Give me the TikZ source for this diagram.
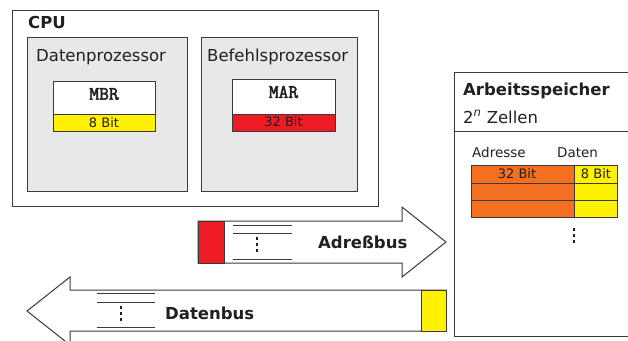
\documentclass[tikz,border=0pt]{standalone}
\usepackage{fontspec}
\setmainfont{DejaVu Sans}
\newfontfamily\regfont[AutoFakeBold=2.5]{Latin Modern Mono}
\definecolor{ylw}{HTML}{FFF200}
\definecolor{rd}{HTML}{ED1C24}
\definecolor{org}{HTML}{F37021}
\definecolor{gry}{HTML}{E8E8E8}
\definecolor{ln}{HTML}{3A3A3A}
\definecolor{txt}{HTML}{231F20}
\begin{document}
\begin{tikzpicture}[x=1pt,y=-1pt,
  box/.style={draw=ln,line width=1pt},
  lbl/.style={inner sep=0pt,text=txt,anchor=west},
  big/.style={font=\fontsize{16.5}{18}\selectfont},
  bigb/.style={font=\fontsize{16.5}{18}\selectfont\bfseries},
  small/.style={font=\fontsize{13}{14}\selectfont},
  reg/.style={font=\fontsize{19}{20}\regfont\bfseries},
  dotm/.style={fill=txt},
  busline/.style={draw=ln,line width=1pt}]
\useasboundingbox (0,0) rectangle (628,340);
% CPU
\draw[box] (12,10) rectangle (378,206);
\node[lbl,bigb] (cpu) at (28,22) {CPU};
\draw[box,fill=gry] (27,37) rectangle (187,191);
\draw[box,fill=gry] (201,37) rectangle (357,191);
\node[lbl,big] (dp) at (36,57) {Datenprozessor};
\node[lbl,big] (bp) at (207,57) {Befehlsprozessor};
% MBR
\draw[box,fill=white] (53,81) rectangle (155,114);
\draw[box,fill=ylw] (53,114) rectangle (155,131);
\node[reg,inner sep=0pt,text=txt] (mbr) at (104,94) {MBR};
\node[small,inner sep=0pt,text=txt] (mbrb) at (104,122.5) {8 Bit};
% MAR
\draw[box,fill=white] (232,79) rectangle (335,114);
\draw[box,fill=rd] (232,114) rectangle (335,131);
\node[reg,inner sep=0pt,text=txt] (mar) at (283.5,92) {MAR};
\node[small,inner sep=0pt,text=txt] (marb) at (283.5,122) {32 Bit};
% Adressbus arrow
\draw[box,fill=white] (198,221) -- (402,221) -- (402,207) -- (446,242) -- (402,277) -- (402,263) -- (198,263) -- cycle;
\draw[box,fill=rd] (198,221) rectangle (224,263);
\draw[busline] (233,225) -- (292,225);
\draw[busline] (233,233) -- (292,233);
\draw[busline] (233,259) -- (292,259);
\fill[dotm] (255.5,237) rectangle (257.5,239.5);
\fill[dotm] (255.5,243) rectangle (257.5,245.5);
\fill[dotm] (255.5,249) rectangle (257.5,251.5);
\node[lbl,bigb] (ab) at (318,242) {Adreßbus};
% Datenbus arrow
\draw[box,fill=white] (446,290) -- (70,290) -- (70,277) -- (27,311) -- (70,345) -- (70,331) -- (446,331) -- cycle;
\draw[box,fill=ylw] (421,290) rectangle (446,331);
\draw[busline] (97,293) -- (155,293);
\draw[busline] (97,302) -- (155,302);
\draw[busline] (97,327) -- (155,327);
\fill[dotm] (119.5,306) rectangle (121.5,308.5);
\fill[dotm] (119.5,312) rectangle (121.5,314.5);
\fill[dotm] (119.5,318) rectangle (121.5,320.5);
\node[lbl,bigb] (db) at (165,313) {Datenbus};
% Arbeitsspeicher
\draw[box] (630,72) -- (454,72) -- (454,336) -- (630,336);
\draw[box] (454,131) -- (630,131);
\node[lbl,bigb] (as) at (463,91) {Arbeitsspeicher};
\node[lbl,big] (zl) at (463,117) {2\textsuperscript{\itshape n} Zellen};
\node[inner sep=0pt,text=txt,anchor=base west,font=\fontsize{13.5}{14}\selectfont] (adr) at (472,157) {Adresse};
\node[inner sep=0pt,text=txt,anchor=base west,font=\fontsize{13.5}{14}\selectfont] (dat) at (557,157) {Daten};
\draw[box,fill=org] (471,165) rectangle (574,183);
\draw[box,fill=org] (471,183) rectangle (574,200);
\draw[box,fill=org] (471,200) rectangle (574,217);
\draw[box,fill=ylw] (574,165) rectangle (617,183);
\draw[box,fill=ylw] (574,183) rectangle (617,200);
\draw[box,fill=ylw] (574,200) rectangle (617,217);
\node[small,inner sep=0pt,text=txt] (c32) at (517,174) {32 Bit};
\node[small,inner sep=0pt,text=txt] (c8) at (596,174) {8 Bit};
\fill[dotm] (572.5,228) rectangle (574.5,230.5);
\fill[dotm] (572.5,234) rectangle (574.5,236.5);
\fill[dotm] (572.5,240) rectangle (574.5,242.5);
\end{tikzpicture}
\end{document}
